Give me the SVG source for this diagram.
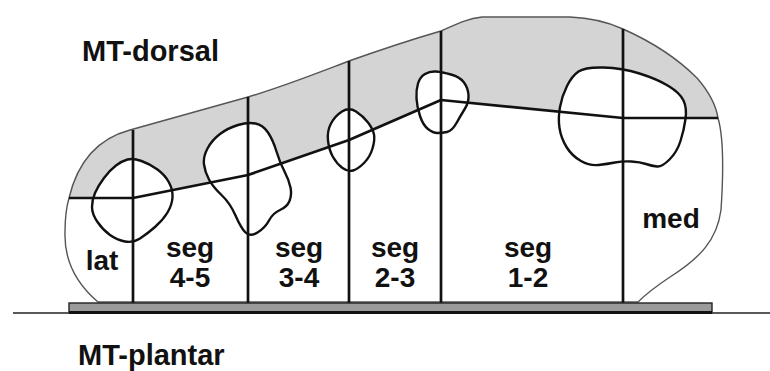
<svg xmlns="http://www.w3.org/2000/svg" width="770" height="371" viewBox="0 0 770 371">
  <style>
    .outline { fill: none; stroke: #555; stroke-width: 1.4; }
    .dorsal { fill: #d4d4d4; stroke: none; }
    .bone { fill: #fff; stroke: #111; stroke-width: 2.4; stroke-linejoin: round; }
    .divider { fill: none; stroke: #111; stroke-width: 2.7; stroke-linejoin: round; }
    .label { font-family: "Liberation Sans", Arial, sans-serif; font-weight: bold; font-size: 28px; fill: #111; text-anchor: middle; }
    .title { font-family: "Liberation Sans", Arial, sans-serif; font-weight: bold; font-size: 29px; fill: #111; }
  </style>
  <defs>
    <path id="foot-outline" d="M98,302 C78,285 64,262 65,232 C65,215 67,205 69,198 C78,160 100,138 130,130 C170,119 210,108 248,97 C285,86 320,72 349,61 C380,50 410,40 441,31 C455,25 465,19 482,17 L570,17 C595,18 610,23 623,29 C650,41 677,58 697,78 C710,93 716,105 718,118 C723,135 724,165 721,210 C717,240 700,258 670,277 C655,287 645,295 638,302 Z"/>
  </defs>

  <!-- forefoot cross-section -->
  <g id="forefoot">
    <use href="#foot-outline" fill="#fff" stroke="none"/>
    <path class="dorsal" d="M69,198 C78,160 100,138 130,130 C170,119 210,108 248,97 C285,86 320,72 349,61 C380,50 410,40 441,31 C455,25 465,19 482,17 L570,17 C595,18 610,23 623,29 C650,41 677,58 697,78 C710,93 716,105 718,118 L623,118 L441,100 L349,140 L248,175 L133,198 Z"/>
    <use href="#foot-outline" class="outline"/>
  </g>

  <!-- metatarsal heads -->
  <g id="mt5">
    <path class="bone" d="M141.5,161 Q150,164 157.5,169.5 Q165,175 169,182.5 Q173,190 172.5,197.5 Q172,205 167.5,212.5 Q163,220 155,227 Q147,234 140,238.5 Q133,243 125,241.5 Q117,240 110,235 Q103,230 97.5,222 Q92,214 92,207 Q92,200 95,193 Q98,186 104,178 Q110,170 116,165.5 Q122,161 127.5,159.5 Q133,158 141.5,161 Z"/>
  </g>
  <g id="mt4">
    <path class="bone" d="M255.5,123.5 Q263,125 268,132.5 Q273,140 276.5,151.5 Q280,163 284.5,171.5 Q289,180 290.5,187.5 Q292,195 289.5,201 Q287,207 280,210 Q273,213 269,220.5 Q265,228 257.5,232.5 Q250,237 245.5,232.5 Q241,228 235.5,215.5 Q230,203 221.5,195 Q213,187 209,179.5 Q205,172 204,164.5 Q203,157 207.5,148.5 Q212,140 220,134 Q228,128 238,125 Q248,122 255.5,123.5 Z"/>
  </g>
  <g id="mt3">
    <path class="bone" d="M356,111.5 Q363,116 368,122.5 Q373,129 374,134.5 Q375,140 372.5,148.5 Q370,157 364,163 Q358,169 353,170.5 Q348,172 342.5,168 Q337,164 333,157 Q329,150 328,140.5 Q327,131 331,123.5 Q335,116 342,111.5 Q349,107 356,111.5 Z"/>
  </g>
  <g id="mt2">
    <path class="bone" d="M436,71.5 Q442,72 451,74.5 Q460,77 464,82.5 Q468,88 468.5,95 Q469,102 465,108.5 Q461,115 456.5,123 Q452,131 447,132 Q442,133 437.5,133 Q433,133 428,129 Q423,125 420,116 Q417,107 416.5,98.5 Q416,90 418,83.5 Q420,77 425,74 Q430,71 436,71.5 Z"/>
  </g>
  <g id="mt1">
    <path class="bone" d="M603.5,67.5 Q622,68 639.5,73.5 Q657,79 668.5,86 Q680,93 683.5,100.5 Q687,108 685.5,119 Q684,130 680.5,141 Q677,152 669.5,159.5 Q662,167 657,166.5 Q652,166 646,164 Q640,162 631.5,161.5 Q623,161 615,162.5 Q607,164 598.5,165 Q590,166 581,161 Q572,156 566.5,147 Q561,138 559.5,128 Q558,118 560,107 Q562,96 567,86 Q572,76 578.5,71.5 Q585,67 603.5,67.5 Z"/>
  </g>

  <!-- segment boundaries and dorsal/plantar divider -->
  <g id="connectors">
    <polyline class="divider" points="69,198 133,198 248,175 349,140 441,100 623,118 718,118"/>
    <line class="divider" x1="133" y1="130" x2="133" y2="303"/>
    <line class="divider" x1="248" y1="97" x2="248" y2="303"/>
    <line class="divider" x1="349" y1="61" x2="349" y2="303"/>
    <line class="divider" x1="441" y1="31" x2="441" y2="303"/>
    <line class="divider" x1="623" y1="29" x2="623" y2="303"/>
  </g>

  <!-- support plate and ground -->
  <g id="plate">
    <line x1="13" y1="313" x2="770" y2="313" stroke="#222" stroke-width="1.6"/>
    <rect x="69" y="303" width="643" height="9" fill="#9a9a9a" stroke="#222" stroke-width="1.4"/>
    <line x1="69" y1="312.5" x2="712" y2="312.5" stroke="#111" stroke-width="2.8"/>
  </g>

  <!-- labels -->
  <g id="labels">
    <text class="title" x="82" y="61">MT-dorsal</text>
    <text class="title" x="78" y="365" font-size="28">MT-plantar</text>
    <text class="label" x="102" y="270">lat</text>
    <text class="label" x="190" y="257">seg</text>
    <text class="label" x="190" y="287">4-5</text>
    <text class="label" x="299" y="257">seg</text>
    <text class="label" x="299" y="287">3-4</text>
    <text class="label" x="395" y="257">seg</text>
    <text class="label" x="395" y="287">2-3</text>
    <text class="label" x="528" y="257">seg</text>
    <text class="label" x="528" y="287">1-2</text>
    <text class="label" x="671" y="228">med</text>
  </g>
</svg>
